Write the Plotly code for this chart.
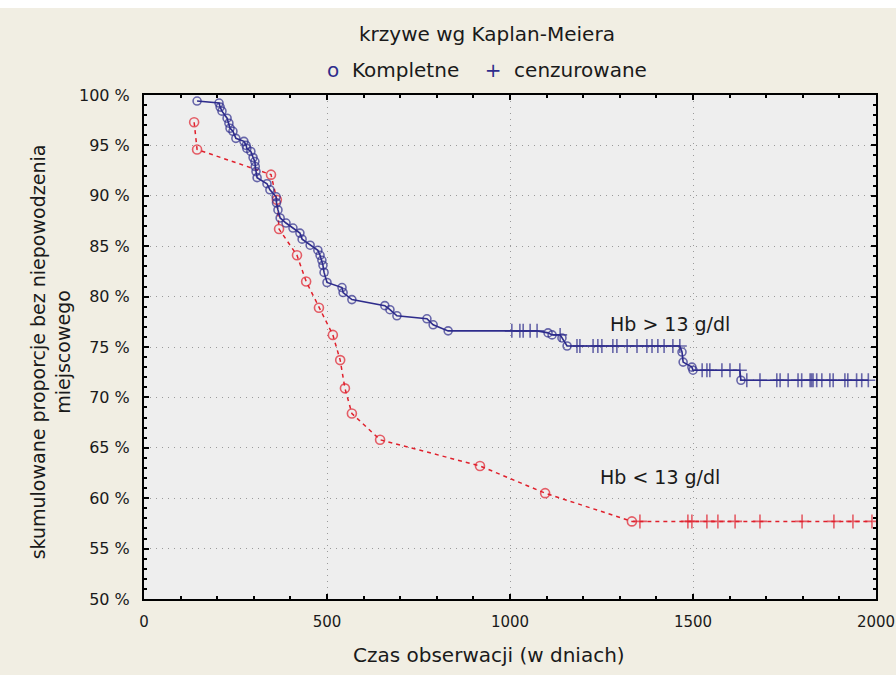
import plotly.graph_objects as go

# ---- data: Hb > 13 g/dl (blue, solid) ----
hi_days = [145, 205, 208, 213, 227, 232, 235, 243, 251, 273, 279, 281, 292, 298, 303, 304, 306, 309,
           336, 344, 361, 362, 366, 372, 388, 407, 426, 432, 454, 475, 481, 486, 489, 492, 500,
           541, 544, 568, 658, 672, 691, 773, 790, 831,
           1005, 1027, 1036, 1055, 1074, 1104, 1115, 1137, 1142, 1156,
           1183, 1191, 1227, 1240, 1251, 1281, 1292, 1320, 1347, 1374, 1388, 1404, 1421, 1445, 1464,
           1470, 1473, 1497, 1500,
           1525, 1538, 1546, 1579, 1601, 1628, 1631,
           1647, 1683, 1729, 1738, 1760, 1787, 1797, 1820, 1824, 1828, 1838, 1852, 1874, 1883,
           1915, 1923, 1947, 1961, 1979]
hi_surv = [99.4, 99.2, 98.8, 98.4, 97.7, 97.2, 96.7, 96.4, 95.7, 95.4, 95.0, 94.7, 94.4, 93.8, 93.4, 92.9, 92.4, 91.8,
           91.2, 90.6, 89.9, 89.3, 88.6, 87.8, 87.3, 86.8, 86.3, 85.7, 85.1, 84.6, 84.1, 83.6, 83.1, 82.4, 81.4,
           80.9, 80.4, 79.7, 79.1, 78.7, 78.1, 77.8, 77.2, 76.6,
           76.6, 76.6, 76.6, 76.6, 76.6, 76.4, 76.2, 76.2, 75.9, 75.1,
           75.1, 75.1, 75.1, 75.1, 75.1, 75.1, 75.1, 75.1, 75.1, 75.1, 75.1, 75.1, 75.1, 75.1, 75.1,
           74.5, 73.5, 73.0, 72.7,
           72.7, 72.7, 72.7, 72.7, 72.7, 72.7, 71.7,
           71.7, 71.7, 71.7, 71.7, 71.7, 71.7, 71.7, 71.7, 71.7, 71.7, 71.7, 71.7, 71.7, 71.7,
           71.7, 71.7, 71.7, 71.7, 71.7]
# 1 = complete (event), 0 = censored
hi_event = [1] * 44 + [0, 0, 0, 0, 0, 1, 1, 0, 1, 1] + [0] * 15 + [1, 1, 1, 1] + [0] * 6 + [1] + [0] * 19

# ---- data: Hb < 13 g/dl (red, dashed) ----
lo_days = [137, 145, 347, 363, 369, 418, 443, 478, 516, 536, 549, 568, 645, 918, 1096, 1333,
           1355, 1486, 1497, 1538, 1568, 1615, 1683, 1798, 1885, 1937, 1989]
lo_surv = [97.3, 94.6, 92.1, 89.6, 86.7, 84.1, 81.5, 78.9, 76.2, 73.7, 70.9, 68.4, 65.8, 63.2, 60.5, 57.7,
           57.7, 57.7, 57.7, 57.7, 57.7, 57.7, 57.7, 57.7, 57.7, 57.7, 57.7]
lo_event = [1] * 16 + [0] * 11

y_ticks = [50, 55, 60, 65, 70, 75, 80, 85, 90, 95, 100]
x_ticks = [0, 500, 1000, 1500, 2000]

BLUE = "#2e2c8c"
RED = "#e0202c"
FONT = "DejaVu Sans, Verdana, sans-serif"
TXT = "#1a1a1a"


def symbols(ev):
    return ["circle-open" if e else "cross-thin-open" for e in ev]


def sizes(ev, c, k):
    return [c if e else k for e in ev]


fig = go.Figure()
fig.add_trace(go.Scatter(
    x=lo_days, y=lo_surv, mode="lines+markers",
    line=dict(color=RED, width=1.5, dash="4px,4px"),
    marker=dict(symbol=symbols(lo_event), size=sizes(lo_event, 9, 10), color=RED,
                line=dict(color=RED, width=1.6)),
    showlegend=False))
fig.add_trace(go.Scatter(
    x=hi_days, y=hi_surv, mode="lines+markers",
    line=dict(color=BLUE, width=1.6),
    marker=dict(symbol=symbols(hi_event), size=sizes(hi_event, 8, 10), color=BLUE,
                line=dict(color=BLUE, width=1.6)),
    showlegend=False))

axis_common = dict(
    showline=True, linecolor="black", linewidth=2, mirror="allticks",
    ticks="inside", ticklen=5, tickwidth=1.5, tickcolor="black",
    showgrid=True, gridcolor="#9a9a9a", griddash="1px,5px", gridwidth=1.2,
    zeroline=False, ticklabeloverflow="allow", automargin=False,
)

fig.update_xaxes(range=[0, 2000], tickvals=x_ticks, ticktext=[str(v) for v in x_ticks],
                 minor=dict(dtick=100, ticks="inside", ticklen=3, tickcolor="black", showgrid=False),
                 ticklabelstandoff=8, tickfont=dict(family=FONT, size=15, color=TXT), **axis_common)
fig.update_yaxes(range=[50, 100], tickvals=y_ticks, ticktext=[f"{v} %" for v in y_ticks],
                 minor=dict(dtick=1, ticks="inside", ticklen=3, tickcolor="black", showgrid=False),
                 ticklabelstandoff=9, tickfont=dict(family=FONT, size=16, color=TXT), **axis_common)

annotations = [
    dict(text="krzywe wg Kaplan-Meiera", xref="paper", yref="paper", x=0.4686, y=1.121,
         xanchor="center", yanchor="middle", showarrow=False,
         font=dict(family=FONT, size=20, color=TXT)),
    dict(text=f"<span style='color:{BLUE}'>o</span>  Kompletne    <span style='color:{BLUE}'>+</span>  cenzurowane",
         xref="paper", yref="paper", x=0.4686, y=1.0496,
         xanchor="center", yanchor="middle", showarrow=False,
         font=dict(family=FONT, size=20, color=TXT)),
    dict(text="Czas obserwacji (w dniach)", xref="paper", yref="paper", x=0.471, y=-0.111,
         xanchor="center", yanchor="middle", showarrow=False,
         font=dict(family=FONT, size=20, color=TXT)),
    dict(text="skumulowane proporcje bez niepowodzenia<br>miejscowego", xref="paper", yref="paper",
         x=-0.128, y=0.49, xanchor="center", yanchor="middle", textangle=-90, showarrow=False,
         font=dict(family=FONT, size=19, color=TXT)),
    dict(text="Hb > 13 g/dl", x=1268, y=77.3, xanchor="left", yanchor="middle", showarrow=False,
         font=dict(family=FONT, size=19, color=TXT)),
    dict(text="Hb < 13 g/dl", x=1240, y=62.1, xanchor="left", yanchor="middle", showarrow=False,
         font=dict(family=FONT, size=19, color=TXT)),
]

# the page keeps only an 8px white strip on top (as in the reference); figure fills the rest
fig.update_layout(
    width=896, height=667,
    margin=dict(l=144, r=20, t=87, b=76, autoexpand=False),
    paper_bgcolor="#f1eee3", plot_bgcolor="#eeeeee",
    annotations=annotations,
)

fig.write_html("out.html",
               post_script="document.body.style.margin='8px 0 0 0';document.body.style.overflow='hidden';")
